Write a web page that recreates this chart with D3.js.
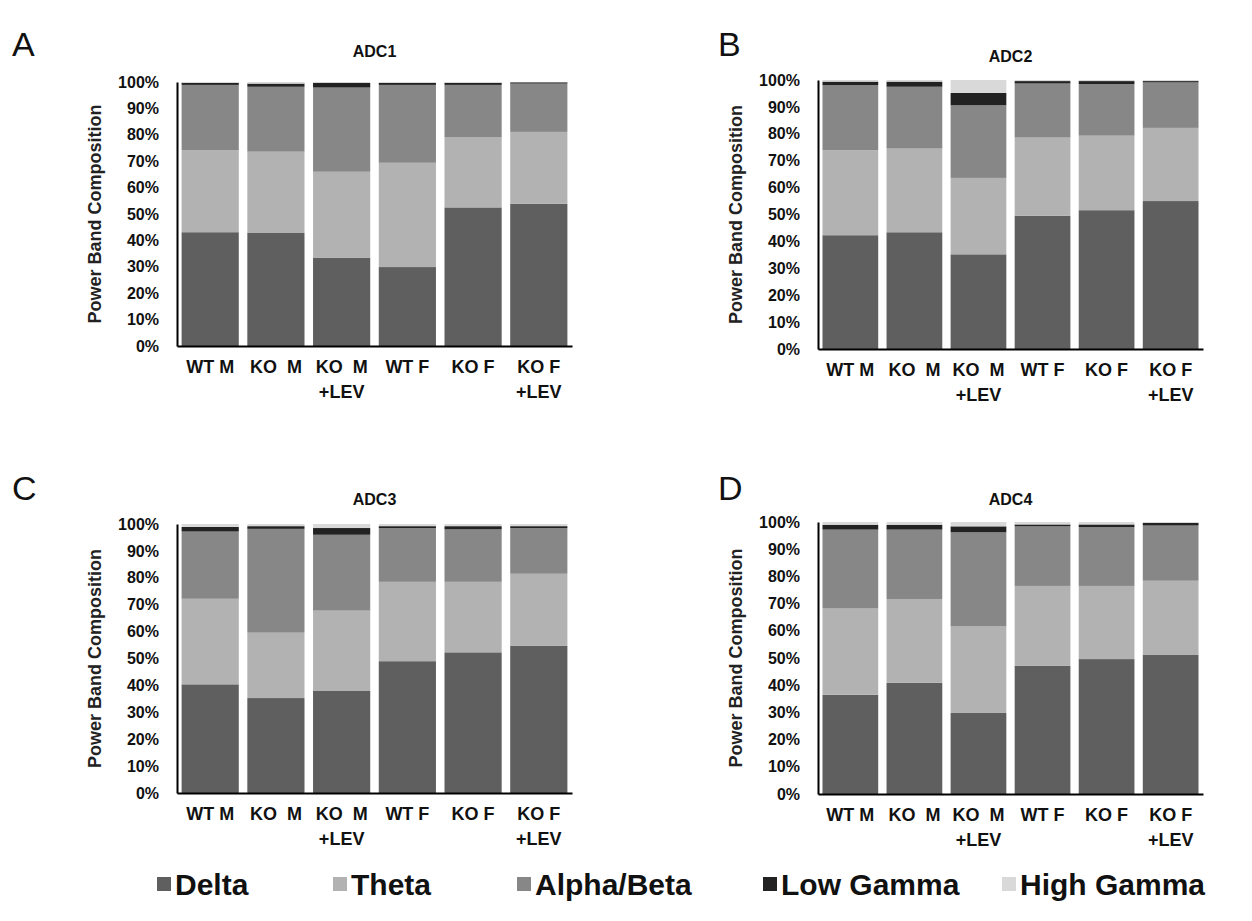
<!DOCTYPE html>
<html>
<head>
<meta charset="utf-8">
<script src="https://cdn.jsdelivr.net/npm/d3@7"></script>
<style>
  html, body { margin: 0; padding: 0; background: #fff; }
  svg { display: block; font-family: "Liberation Sans", Arial, sans-serif; }
</style>
</head>
<body>
<svg id="chart" width="1252" height="921"></svg>
<script>
// ---------- data ----------
const categories = ["WT M", "KO  M", "KO  M\n+LEV", "WT F", "KO F", "KO F\n+LEV"];
const bands = ["Delta", "Theta", "Alpha/Beta", "Low Gamma", "High Gamma"];
const bandColors = ["#5f5f5f", "#b2b2b2", "#878787", "#222222", "#d9d9d9"];
const yTicks = [0, 0.1, 0.2, 0.3, 0.4, 0.5, 0.6, 0.7, 0.8, 0.9, 1.0];
const panelTitles = ["ADC1", "ADC2", "ADC3", "ADC4"];
const panelLetters = ["A", "B", "C", "D"];

// values in percent, one row per band: Delta, Theta, Alpha/Beta, Low Gamma, High Gamma
const adc1 = [
  [43.1, 42.8, 33.5, 29.9, 52.5, 53.9],
  [31.1, 30.8, 32.5, 39.5, 26.5, 27.2],
  [24.7, 24.6, 31.9, 29.5, 19.9, 18.3],
  [0.8, 1.2, 1.8, 0.8, 0.8, 0.5],
  [0.3, 0.6, 0.3, 0.3, 0.3, 0.1]
];
const adc2 = [
  [42.3, 43.4, 35.2, 49.5, 51.6, 55.0],
  [31.6, 31.1, 28.4, 29.1, 27.7, 27.2],
  [24.2, 23.0, 27.0, 20.1, 19.2, 16.9],
  [1.3, 1.9, 4.6, 0.9, 1.1, 0.5],
  [0.6, 0.6, 4.8, 0.4, 0.4, 0.4]
];
const adc3 = [
  [40.4, 35.3, 38.1, 49.0, 52.3, 54.8],
  [31.8, 24.3, 29.7, 29.5, 26.2, 26.7],
  [25.0, 38.6, 28.2, 20.0, 19.5, 17.0],
  [1.7, 1.0, 2.5, 0.7, 1.2, 0.7],
  [1.1, 0.8, 1.5, 0.8, 0.8, 0.8]
];
const adc4 = [
  [36.5, 40.9, 29.8, 47.2, 49.6, 51.1],
  [31.7, 30.8, 31.8, 29.3, 26.9, 27.3],
  [29.0, 25.5, 34.6, 21.9, 21.6, 20.3],
  [1.8, 1.8, 2.2, 0.7, 1.0, 1.0],
  [1.0, 1.0, 1.6, 0.9, 0.9, 0.3]
];
const panelData = [adc1, adc2, adc3, adc4];

// ---------- layout ----------
const panels = [
  { x0: 177, x1: 572, yTop: 82, yBot: 346, letterX: 12, letterY: 56, titleY: 57, ylabX: 101 },
  { x0: 818, x1: 1203, yTop: 80, yBot: 349, letterX: 718, letterY: 56, titleY: 62, ylabX: 742 },
  { x0: 177, x1: 572, yTop: 524, yBot: 793, letterX: 12, letterY: 500, titleY: 505, ylabX: 101 },
  { x0: 818, x1: 1203, yTop: 522, yBot: 794, letterX: 718, letterY: 500, titleY: 505, ylabX: 742 }
];

const svg = d3.select("#chart");

panels.forEach((p, i) => {
  const data = panelData[i];
  const g = svg.append("g");

  const x = d3.scaleBand().domain(categories).range([p.x0, p.x1]).paddingInner(0.13).paddingOuter(0.07);
  const y = d3.scaleLinear().domain([0, 1]).range([p.yBot, p.yTop]);

  const rows = categories.map((c, ci) => {
    const r = { cat: c };
    bands.forEach((b, bi) => { r[b] = data[bi][ci] / 100; });
    return r;
  });
  const stack = d3.stack().keys(bands)(rows);

  g.selectAll("g.layer").data(stack).join("g")
    .attr("class", "layer")
    .attr("fill", (d, k) => bandColors[k])
    .selectAll("rect").data(d => d).join("rect")
    .attr("x", d => x(d.data.cat))
    .attr("width", x.bandwidth())
    .attr("y", d => y(Math.min(d[1], 1)))
    .attr("height", d => Math.max(0, y(d[0]) - y(Math.min(d[1], 1))));

  // y axis
  const yAxis = g.append("g")
    .attr("transform", `translate(${p.x0},0)`)
    .call(d3.axisLeft(y).tickValues(yTicks).tickFormat(d3.format(".0%")).tickSize(0).tickPadding(18));
  yAxis.select(".domain").attr("stroke", "#000").attr("stroke-width", 2);
  yAxis.selectAll("text").attr("font-size", 16).attr("font-weight", "bold").attr("fill", "#111")
    .attr("font-family", "'Liberation Sans', Arial, sans-serif");

  // x axis
  const xAxis = g.append("g")
    .attr("transform", `translate(0,${p.yBot})`)
    .call(d3.axisBottom(x).tickSize(0).tickFormat(""));
  xAxis.select(".domain").attr("stroke", "#000").attr("stroke-width", 2);
  xAxis.selectAll(".tick").each(function (d) {
    const lines = d.split("\n");
    const t = d3.select(this).append("text")
      .attr("fill", "#111").attr("font-size", 18).attr("font-weight", "bold")
      .attr("text-anchor", "middle")
      .style("white-space", "pre")
      .attr("font-family", "'Liberation Sans', Arial, sans-serif");
    lines.forEach((ln, li) => {
      t.append("tspan").attr("x", 0).attr("y", 27 + li * 25).text(ln);
    });
  });

  // y label
  g.append("text")
    .attr("transform", `translate(${p.ylabX},${(p.yTop + p.yBot) / 2}) rotate(-90)`)
    .attr("text-anchor", "middle")
    .attr("font-size", 18).attr("font-weight", "bold").attr("fill", "#222")
    .text("Power Band Composition");

  // title
  g.append("text")
    .attr("x", (p.x0 + p.x1) / 2).attr("y", p.titleY)
    .attr("text-anchor", "middle")
    .attr("font-size", 16).attr("font-weight", "bold").attr("fill", "#111")
    .text(panelTitles[i]);

  // panel letter
  g.append("text")
    .attr("x", p.letterX).attr("y", p.letterY)
    .attr("font-size", 34).attr("fill", "#111")
    .text(panelLetters[i]);
});

// ---------- legend ----------
const legendX = [157, 333, 517, 763, 1002];
const legend = svg.append("g");
bands.forEach((b, k) => {
  const lg = legend.append("g").attr("transform", `translate(${legendX[k]},0)`);
  lg.append("rect").attr("x", 0).attr("y", 877).attr("width", 14).attr("height", 14).attr("fill", bandColors[k]);
  lg.append("text").attr("x", 18).attr("y", 895)
    .attr("font-size", 30).attr("font-weight", "bold").attr("fill", "#111")
    .text(b);
});
</script>
</body>
</html>
